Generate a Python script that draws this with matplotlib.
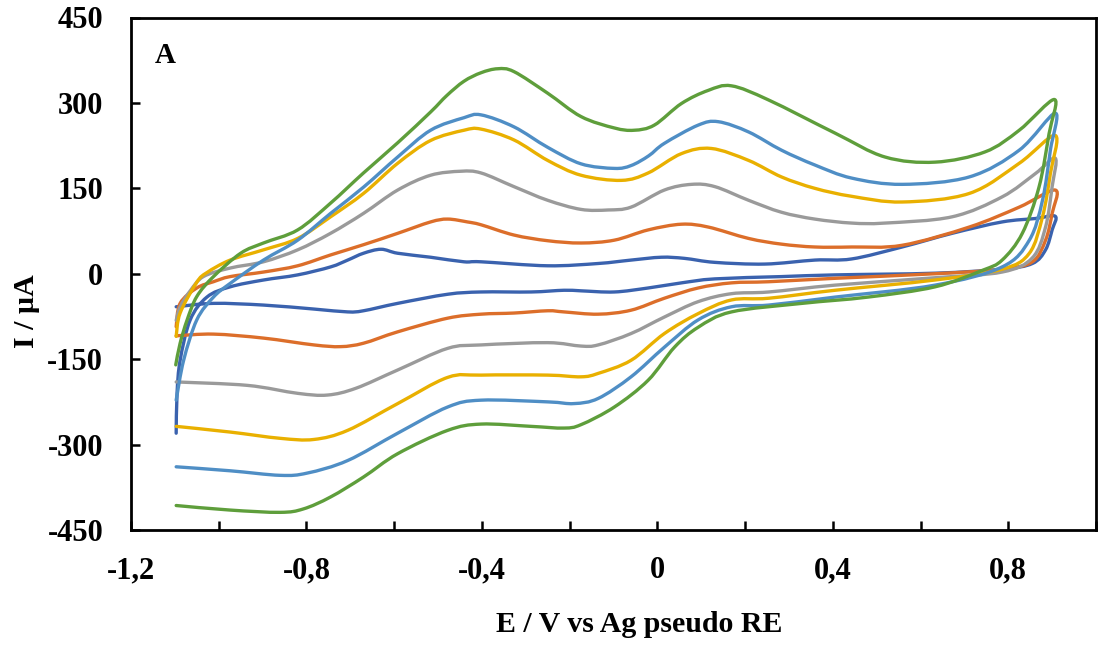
import matplotlib
matplotlib.use("Agg")
import matplotlib.pyplot as plt
from matplotlib.path import Path
from matplotlib.patches import PathPatch

# ---- data (E in V, I in uA) ----
E_green = [-1.098, -1.088, -1.072, -1.05, -1.012, -0.95, -0.898, -0.82, -0.745, -0.67, -0.592, -0.517,
           -0.48, -0.441, -0.402, -0.364, -0.327, -0.25, -0.174, -0.098, -0.053, -0.007, 0.055, 0.116, 0.169,
           0.254, 0.405, 0.519, 0.633, 0.747, 0.825, 0.905,
           0.893, 0.870, 0.832, 0.786, 0.741, 0.633, 0.48, 0.33, 0.169, 0.093, 0.039, -0.021, -0.098,
           -0.174, -0.213, -0.288, -0.402, -0.478, -0.592, -0.67, -0.745, -0.807, -0.86, -0.974, -1.097]
I_green = [-160, -122, -81, -40, -5, 36, 54, 77, 124, 177, 230, 284,
           313, 338, 353, 360, 355, 317, 276, 256, 252, 261, 299, 322, 330,
           305, 247, 205, 196, 214, 252, 306,
           246, 152, 71, 24, 6, -23, -41, -52, -67, -94, -129, -187, -234,
           -265, -271, -268, -264, -275, -316, -357, -392, -413, -419, -415, -407]

E_lblue = [-1.097, -1.08, -1.05, -1.012, -0.974, -0.898, -0.82, -0.745, -0.67, -0.592, -0.517, -0.441,
           -0.402, -0.327, -0.25, -0.174, -0.098, -0.06, -0.02, 0.016, 0.093, 0.139, 0.208, 0.283, 0.359,
           0.443, 0.558, 0.711, 0.825, 0.907,
           0.896, 0.878, 0.848, 0.786, 0.633, 0.405, 0.254, 0.169, 0.093, 0.016, -0.06, -0.135,
           -0.19, -0.25, -0.402, -0.478, -0.592, -0.706, -0.798, -0.86, -0.974, -1.097]
I_lblue = [-222, -152, -81, -41, -17, 24, 59, 106, 152, 205, 252, 274,
           279, 258, 222, 193, 185, 190, 207, 229, 261, 267, 249, 217, 191,
           168, 157, 170, 217, 282,
           217, 129, 59, 12, -20, -41, -55, -58, -81, -129, -181, -219,
           -228, -225, -222, -234, -280, -328, -350, -354, -346, -339]

E_yellow = [-1.097, -1.088, -1.05, -1.027, -0.974, -0.898, -0.82, -0.745, -0.67, -0.592, -0.517, -0.441,
            -0.402, -0.327, -0.25, -0.174, -0.082, -0.021, 0.055, 0.123, 0.208, 0.283, 0.359, 0.443,
            0.558, 0.711, 0.825, 0.907,
            0.896, 0.878, 0.848, 0.786, 0.633, 0.405, 0.254, 0.169, 0.093, 0.016, -0.06, -0.135,
            -0.174, -0.25, -0.402, -0.478, -0.592, -0.706, -0.783, -0.86, -0.974, -1.097]
I_yellow = [-110, -69, -15, 2, 24, 42, 62, 100, 141, 194, 234, 252,
            254, 235, 199, 173, 164, 177, 211, 220, 199, 170, 150, 136,
            126, 141, 194, 243,
            176, 100, 36, 8, -11, -29, -43, -46, -70, -105, -152, -175,
            -181, -178, -178, -182, -228, -275, -291, -289, -278, -268]

E_gray = [-1.097, -1.088, -1.065, -1.035, -0.974, -0.898, -0.82, -0.745, -0.67, -0.592, -0.517, -0.448,
          -0.402, -0.327, -0.25, -0.174, -0.112, -0.06, 0.016, 0.078, 0.131, 0.208, 0.283, 0.359,
          0.443, 0.519, 0.672, 0.786, 0.862, 0.907,
          0.9, 0.885, 0.855, 0.786, 0.633, 0.405, 0.254, 0.169, 0.093, 0.016, -0.06, -0.135,
          -0.174, -0.25, -0.402, -0.478, -0.592, -0.687, -0.752, -0.82, -0.935, -1.097]
I_gray = [-82, -58, -30, -5, 10, 21, 42, 71, 106, 147, 173, 180,
          177, 153, 129, 113, 112, 117, 147, 157, 153, 129, 108, 96,
          89, 89, 100, 135, 176, 203,
          153, 82, 28, 3, -7, -20, -32, -35, -49, -76, -105, -125,
          -127, -121, -125, -131, -169, -201, -213, -210, -196, -190]

E_orange = [-1.097, -1.088, -1.05, -1.012, -0.974, -0.898, -0.82, -0.745, -0.67, -0.592, -0.517, -0.478,
            -0.433, -0.402, -0.327, -0.25, -0.174, -0.098, -0.021, 0.055, 0.116, 0.208, 0.283, 0.359,
            0.443, 0.558, 0.711, 0.825, 0.907,
            0.9, 0.885, 0.855, 0.786, 0.633, 0.405, 0.254, 0.169, 0.093, 0.016, -0.06, -0.135,
            -0.213, -0.25, -0.327, -0.402, -0.478, -0.592, -0.67, -0.722, -0.783, -0.898, -1.012, -1.097]
I_orange = [-93, -52, -25, -14, -5, 3, 14, 33, 51, 71, 91, 96,
            91, 86, 68, 58, 54, 59, 77, 87, 82, 62, 52, 47,
            47, 50, 82, 117, 147,
            106, 59, 21, 8, 0, -8, -14, -16, -25, -43, -64, -71,
            -67, -65, -69, -71, -78, -102, -122, -128, -125, -113, -106, -109]

E_dblue = [-1.097, -1.095, -1.088, -1.065, -1.027, -0.974, -0.898, -0.82, -0.745, -0.706, -0.67, -0.63,
           -0.592, -0.517, -0.441, -0.402, -0.25, -0.135, -0.06, 0.009, 0.062, 0.131, 0.245, 0.359,
           0.443, 0.558, 0.672, 0.786, 0.862, 0.907,
           0.9, 0.885, 0.855, 0.786, 0.633, 0.405, 0.283, 0.131, 0.055, -0.021, -0.098, -0.174,
           -0.213, -0.288, -0.402, -0.478, -0.592, -0.67, -0.706, -0.783, -0.898, -1.012, -1.097]
I_dblue = [-280, -210, -152, -81, -41, -23, -11, -2, 12, 24, 36, 43,
           36, 29, 21, 21, 14, 18, 24, 29, 27, 20, 17, 24,
           26, 47, 71, 91, 97, 101,
           77, 42, 18, 8, 1, -2, -5, -9, -16, -25, -32, -30,
           -29, -32, -32, -36, -52, -65, -67, -62, -55, -52, -58]

series = [
    (E_dblue, I_dblue, "#3A62AE"),
    (E_orange, I_orange, "#DC6E2A"),
    (E_gray, I_gray, "#9A9A9A"),
    (E_yellow, I_yellow, "#E9B000"),
    (E_lblue, I_lblue, "#4F8EC5"),
    (E_green, I_green, "#5E9E3B"),
]

x_ticks = [-1.2, -1.0, -0.8, -0.6, -0.4, -0.2, 0.0, 0.2, 0.4, 0.6, 0.8, 1.0]
x_labels = ["-1,2", "", "-0,8", "", "-0,4", "", "0", "", "0,4", "", "0,8", ""]
y_ticks = [-450, -300, -150, 0, 150, 300, 450]
y_labels = ["-450", "-300", "-150", "0", "150", "300", "450"]


def smooth_path(xs, ys):
    """Excel-style smoothed line: cubic Bezier segments through the data points."""
    pts = list(zip(xs, ys))
    n = len(pts)
    verts = [pts[0]]
    codes = [Path.MOVETO]
    for i in range(n - 1):
        p0 = pts[i - 1] if i > 0 else pts[i]
        p1 = pts[i]
        p2 = pts[i + 1]
        p3 = pts[i + 2] if i + 2 < n else pts[i + 1]
        c1 = (p1[0] + (p2[0] - p0[0]) / 6.0, p1[1] + (p2[1] - p0[1]) / 6.0)
        c2 = (p2[0] - (p3[0] - p1[0]) / 6.0, p2[1] - (p3[1] - p1[1]) / 6.0)
        verts += [c1, c2, p2]
        codes += [Path.CURVE4] * 3
    return Path(verts, codes)


plt.rcParams["font.family"] = ["Liberation Serif", "DejaVu Serif"]
plt.rcParams["font.weight"] = "bold"

fig = plt.figure(figsize=(11.02, 6.59), dpi=100)
ax = fig.add_axes([131 / 1102, 1 - 530 / 659, (1096 - 131) / 1102, (530 - 17.5) / 659])

for E, I, c in series:
    patch = PathPatch(smooth_path(E, I), facecolor="none", edgecolor=c, lw=2.4,
                      joinstyle="round", capstyle="round")
    ax.add_patch(patch)

ax.set_xlim(-1.2, 1.0)
ax.set_ylim(-450, 450)
ax.set_xticks(x_ticks)
ax.set_xticklabels(x_labels)
ax.set_yticks(y_ticks)
ax.set_yticklabels(y_labels)
ax.tick_params(axis="both", direction="in", length=6.5, width=1.8, labelsize=22)
ax.tick_params(axis="x", pad=19)
ax.tick_params(axis="y", pad=20)
for lab in ax.get_xticklabels() + ax.get_yticklabels():
    lab.set_fontweight("bold")
for s in ax.spines.values():
    s.set_linewidth(2.0)

ax.text(0.025, 0.952, "A", transform=ax.transAxes, fontsize=21, fontweight="bold",
        ha="left", va="top")

fig.text(639 / 1102, 1 - 632 / 659, "E / V vs Ag pseudo RE", fontsize=21.5, fontweight="bold",
         ha="center", va="baseline")
fig.text(27 / 1102, 1 - 311 / 659, "I / µA", fontsize=21.5, fontweight="bold",
         ha="center", va="center", rotation=90)

fig.savefig("out.png", dpi=100)
